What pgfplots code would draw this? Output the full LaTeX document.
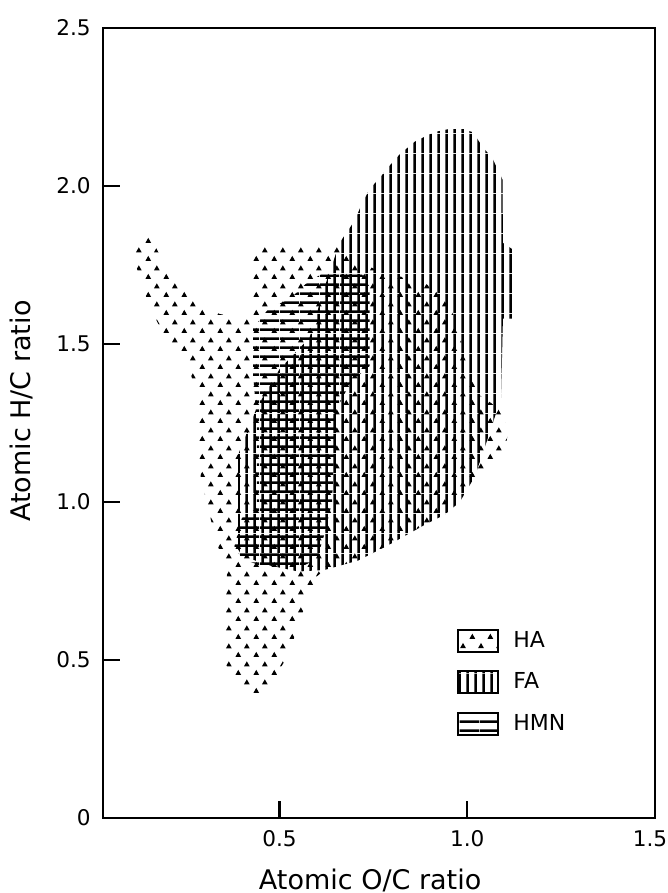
\documentclass[border=0pt]{standalone}
\usepackage{fontspec}
\setmainfont{DejaVu Sans}
\usepackage{pgfplots}
\pgfplotsset{compat=1.18}
\usetikzlibrary{patterns}

\pgfdeclarepatternformonly{hadots}{\pgfpointorigin}{\pgfqpoint{9pt}{9pt}}{\pgfqpoint{9pt}{9pt}}{%
  \pgfpathmoveto{\pgfqpoint{0.75pt}{1.1pt}}%
  \pgfpathlineto{\pgfqpoint{3.75pt}{1.1pt}}%
  \pgfpathlineto{\pgfqpoint{2.25pt}{3.75pt}}%
  \pgfpathclose
  \pgfpathmoveto{\pgfqpoint{5.25pt}{5.6pt}}%
  \pgfpathlineto{\pgfqpoint{8.25pt}{5.6pt}}%
  \pgfpathlineto{\pgfqpoint{6.75pt}{8.25pt}}%
  \pgfpathclose
  \pgfusepath{fill}}

\pgfdeclarepatternformonly{falines}{\pgfpointorigin}{\pgfqpoint{3.8pt}{10pt}}{\pgfqpoint{3.8pt}{10pt}}{%
  \pgfsetlinewidth{1.2pt}%
  \pgfpathmoveto{\pgfqpoint{1.9pt}{0pt}}%
  \pgfpathlineto{\pgfqpoint{1.9pt}{10pt}}%
  \pgfusepath{stroke}}

\pgfdeclarepatternformonly{hmnlines}{\pgfpointorigin}{\pgfqpoint{10pt}{4.4pt}}{\pgfqpoint{10pt}{4.4pt}}{%
  \pgfsetlinewidth{1.3pt}%
  \pgfpathmoveto{\pgfqpoint{0pt}{2.2pt}}%
  \pgfpathlineto{\pgfqpoint{10pt}{2.2pt}}%
  \pgfusepath{stroke}}

\begin{document}
\begin{tikzpicture}
\path[use as bounding box] (-51.5pt,-37.5pt) rectangle (282.5pt,409pt);
\begin{axis}[
  at={(0pt,0pt)}, anchor=south west,
  scale only axis, width=276pt, height=395pt,
  xmin=0.03, xmax=1.5, ymin=0, ymax=2.5,
  axis line style={line width=1.2pt},
  xtick={0.5,1.0,1.5}, xticklabels={0.5,1.0,{1.5\hspace*{5pt}}},
  ytick={0,0.5,1.0,1.5,2.0,2.5}, yticklabels={0,0.5,1.0,1.5,2.0,2.5},
  xtick pos=bottom, ytick pos=left,
  tick align=inside, major tick length=8.5pt,
  every tick/.style={black, line width=1.1pt},
  tick label style={font=\fontsize{10.8}{12}\selectfont},
  xticklabel style={yshift=-2.6pt},
  yticklabel style={xshift=-2.6pt},
  label style={font=\fontsize{13.5}{15}\selectfont},
  xlabel={Atomic O/C ratio}, ylabel={Atomic H/C ratio},
  xlabel style={at={(axis description cs:0.484,0)}, anchor=center, yshift=-31pt},
  ylabel style={at={(axis description cs:-0.148,0.515)}, anchor=center},
  legend style={draw=none, fill=none, at={(axis description cs:0.641,0.242)},
    anchor=north west, inner sep=0pt, row sep=7.3pt,
    font=\fontsize{11}{12}\selectfont,
    /tikz/every odd column/.style={column sep=5pt}},
  legend cell align=left,
]
\addplot[draw=none, pattern=hadots,
  legend image code/.code={\draw[line width=1.1pt, pattern=hadots] (0pt,-5.5pt) rectangle (20pt,5.5pt);}]
 coordinates {
 (0.282,1.33) (0.26,1.42) (0.225,1.48) (0.20,1.51) (0.153,1.62) (0.13,1.70) (0.11,1.78)
 (0.13,1.82) (0.153,1.845) (0.20,1.74) (0.247,1.68) (0.27,1.645) (0.34,1.595) (0.42,1.58)
 (0.43,1.62) (0.43,1.78) (0.45,1.815) (0.55,1.815) (0.66,1.815) (0.70,1.77) (0.78,1.72)
 (0.84,1.71) (0.89,1.69) (0.935,1.66) (0.96,1.60) (0.98,1.53) (1.00,1.43) (1.03,1.34)
 (1.08,1.30) (1.11,1.23) (1.10,1.16) (1.06,1.10) (1.02,1.07) (0.98,1.0) (0.94,0.965)
 (0.89,0.93) (0.80,0.87) (0.71,0.815) (0.62,0.785) (0.60,0.765) (0.571,0.68) (0.548,0.605)
 (0.526,0.52) (0.50,0.47) (0.47,0.40) (0.42,0.39) (0.38,0.44) (0.355,0.49) (0.355,0.60)
 (0.36,0.77) (0.345,0.83) (0.33,0.88) (0.31,0.98) (0.29,1.08) (0.285,1.17)
 } -- cycle;
\addlegendentry{HA}
\addplot[draw=none, pattern=falines,
  legend image code/.code={\draw[line width=1.1pt, pattern=falines] (0pt,-5.5pt) rectangle (20pt,5.5pt);}]
 coordinates {
 (0.39,0.85) (0.40,0.83) (0.47,0.80) (0.55,0.78) (0.62,0.785) (0.71,0.815) (0.80,0.87)
 (0.89,0.93) (0.94,0.96) (0.98,1.0) (1.02,1.08) (1.06,1.22) (1.09,1.33) (1.095,1.58)
 (1.12,1.58) (1.12,1.80) (1.095,1.82) (1.094,2.02) (1.066,2.09) (1.043,2.12) (1.015,2.17)
 (0.99,2.18) (0.95,2.18) (0.91,2.17) (0.86,2.14) (0.82,2.10) (0.79,2.06) (0.77,2.03)
 (0.74,1.99) (0.72,1.945) (0.70,1.89) (0.66,1.82) (0.62,1.68) (0.58,1.52) (0.50,1.42)
 (0.44,1.30) (0.39,1.15)
 } -- cycle;
\addlegendentry{FA}
\addplot[draw=none, pattern=hmnlines,
  legend image code/.code={\draw[line width=1.1pt, pattern=hmnlines] (0pt,-5.5pt) rectangle (20pt,5.5pt);}]
 coordinates {
 (0.43,1.55) (0.47,1.61) (0.53,1.645) (0.57,1.69) (0.61,1.72) (0.72,1.72) (0.74,1.68)
 (0.74,1.43) (0.69,1.38) (0.65,1.29) (0.64,1.0) (0.62,0.9) (0.60,0.82) (0.55,0.79)
 (0.47,0.79) (0.40,0.82) (0.38,0.86) (0.40,0.95) (0.44,0.98) (0.44,1.25) (0.43,1.40)
 } -- cycle;
\addlegendentry{HMN}
\end{axis}
\end{tikzpicture}
\end{document}
